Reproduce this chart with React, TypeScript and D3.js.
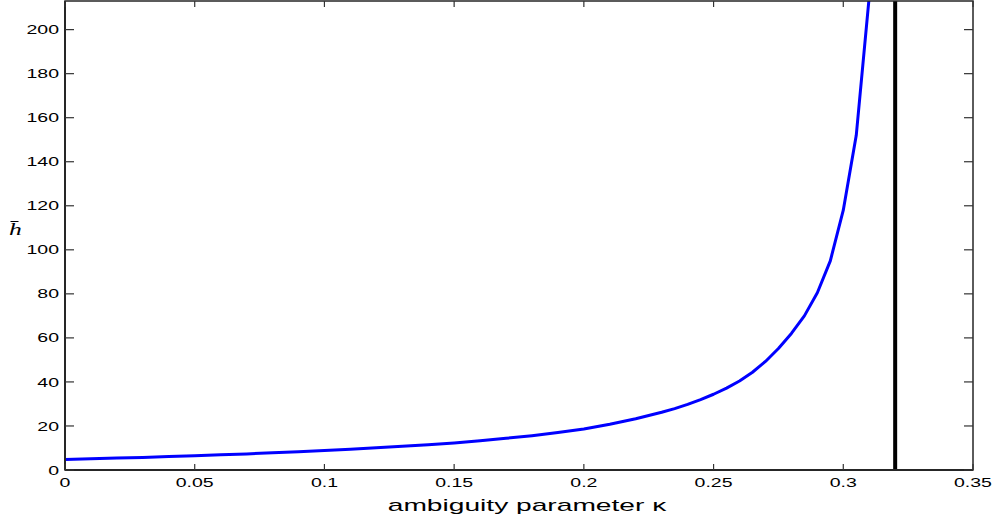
import React, { useEffect, useRef } from "react";
import * as d3 from "d3";

// kappa grid and the h-bar values
const kappa = [
  0, 0.01, 0.02, 0.03, 0.04, 0.05, 0.06, 0.07, 0.08, 0.09, 0.1, 0.11, 0.12,
  0.13, 0.14, 0.15, 0.16, 0.17, 0.18, 0.19, 0.2, 0.21, 0.22, 0.23, 0.235, 0.24,
  0.245, 0.25, 0.255, 0.26, 0.265, 0.27, 0.275, 0.28, 0.285, 0.29, 0.295, 0.3,
  0.305, 0.31,
];
const hBar = [
  4.8, 5.1, 5.4, 5.7, 6.1, 6.5, 6.9, 7.3, 7.8, 8.3, 8.8, 9.4, 10.1, 10.8, 11.5,
  12.3, 13.3, 14.4, 15.6, 17, 18.6, 20.8, 23.3, 26.2, 27.9, 29.8, 32.0, 34.4,
  37.2, 40.4, 44.4, 49.3, 55.2, 62, 70, 80.5, 95, 118, 152, 215,
];
const kappaLimit = 0.32;
const xTicks = [0, 0.05, 0.1, 0.15, 0.2, 0.25, 0.3, 0.35];
const xTickLabels = ["0", "0.05", "0.1", "0.15", "0.2", "0.25", "0.3", "0.35"];
const yTicks = [0, 20, 40, 60, 80, 100, 120, 140, 160, 180, 200];

const App = () => {
  const svgRef = useRef<SVGSVGElement>(null);

  useEffect(() => {
    const svg = d3.select(svgRef.current);
    svg.selectAll("*").remove();
    const width = 995;
    const height = 516;
    const margin = { top: 1, right: 22, bottom: 46, left: 65 };
    const font = "'Liberation Sans', Arial, Helvetica, sans-serif";

    const x = d3
      .scaleLinear()
      .domain([0, 0.35])
      .range([margin.left, width - margin.right]);
    const y = d3
      .scaleLinear()
      .domain([0, 213])
      .range([height - margin.bottom, margin.top]);

    const [x0, x1] = x.range();
    const [yb, yt] = y.range();

    svg
      .append("rect")
      .attr("width", width)
      .attr("height", height)
      .attr("fill", "#fff");

    svg
      .append("defs")
      .append("clipPath")
      .attr("id", "plot-clip")
      .append("rect")
      .attr("x", x0)
      .attr("y", yt)
      .attr("width", x1 - x0)
      .attr("height", yb - yt);

    // curve
    const pts = kappa.map((k, i) => [k, hBar[i]] as [number, number]);
    svg
      .append("path")
      .datum(pts)
      .attr("clip-path", "url(#plot-clip)")
      .attr("fill", "none")
      .attr("stroke", "#0000ff")
      .attr("stroke-width", 3)
      .attr("stroke-linejoin", "round")
      .attr(
        "d",
        d3
          .line<[number, number]>()
          .x((d) => x(d[0]))
          .y((d) => y(d[1])),
      );

    // critical kappa
    svg
      .append("line")
      .attr("x1", x(kappaLimit))
      .attr("x2", x(kappaLimit))
      .attr("y1", yt)
      .attr("y2", yb)
      .attr("stroke", "#000")
      .attr("stroke-width", 4);

    // box
    svg
      .append("rect")
      .attr("x", x0)
      .attr("y", yt)
      .attr("width", x1 - x0)
      .attr("height", yb - yt)
      .attr("fill", "none")
      .attr("stroke", "#262626")
      .attr("stroke-width", 1.5);
    svg
      .append("line")
      .attr("x1", x0)
      .attr("x2", x1)
      .attr("y1", yb)
      .attr("y2", yb)
      .attr("stroke", "#262626")
      .attr("stroke-width", 2.2);
    svg
      .append("line")
      .attr("x1", x0)
      .attr("x2", x0)
      .attr("y1", yt)
      .attr("y2", yb)
      .attr("stroke", "#262626")
      .attr("stroke-width", 2);

    // ticks inside, on all four sides
    const tk = svg.append("g").attr("stroke", "#333").attr("stroke-width", 1.2);
    xTicks.forEach((t) => {
      tk.append("line")
        .attr("x1", x(t))
        .attr("x2", x(t))
        .attr("y1", yb)
        .attr("y2", yb - 6);
      tk.append("line")
        .attr("x1", x(t))
        .attr("x2", x(t))
        .attr("y1", yt)
        .attr("y2", yt + 6);
    });
    yTicks.forEach((t) => {
      tk.append("line")
        .attr("x1", x0)
        .attr("x2", x0 + 9)
        .attr("y1", y(t))
        .attr("y2", y(t));
      tk.append("line")
        .attr("x1", x1)
        .attr("x2", x1 - 9)
        .attr("y1", y(t))
        .attr("y2", y(t));
    });

    // tick labels (the source image is stretched horizontally)
    xTicks.forEach((t, i) => {
      svg
        .append("text")
        .attr("transform", `translate(${x(t)},${yb + 17}) scale(1.5,1)`)
        .attr("text-anchor", "middle")
        .attr("font-family", font)
        .attr("font-size", 13)
        .text(xTickLabels[i]);
    });
    yTicks.forEach((t) => {
      svg
        .append("text")
        .attr("transform", `translate(${x0 - 6},${y(t) + 4.6}) scale(1.5,1)`)
        .attr("text-anchor", "end")
        .attr("font-family", font)
        .attr("font-size", 13)
        .text(String(t));
    });

    // axis labels
    svg
      .append("text")
      .attr("transform", `translate(527,${height - 5.5}) scale(1.76,1)`)
      .attr("text-anchor", "middle")
      .attr("font-family", font)
      .attr("font-size", 16)
      .text("ambiguity parameter κ");

    svg
      .append("text")
      .attr("transform", "translate(15.5,235) scale(1.6,1)")
      .attr("text-anchor", "middle")
      .attr("font-family", "'Liberation Serif', 'Times New Roman', serif")
      .attr("font-style", "italic")
      .attr("font-size", 16)
      .text("h");
    svg
      .append("line")
      .attr("x1", 10.5)
      .attr("x2", 18.5)
      .attr("y1", 221.5)
      .attr("y2", 221.5)
      .attr("stroke", "#000")
      .attr("stroke-width", 1);
  }, []);

  return (
    <svg
      ref={svgRef}
      width={995}
      height={516}
      style={{ position: "absolute", left: 0, top: 0 }}
    ></svg>
  );
};

export default App;
